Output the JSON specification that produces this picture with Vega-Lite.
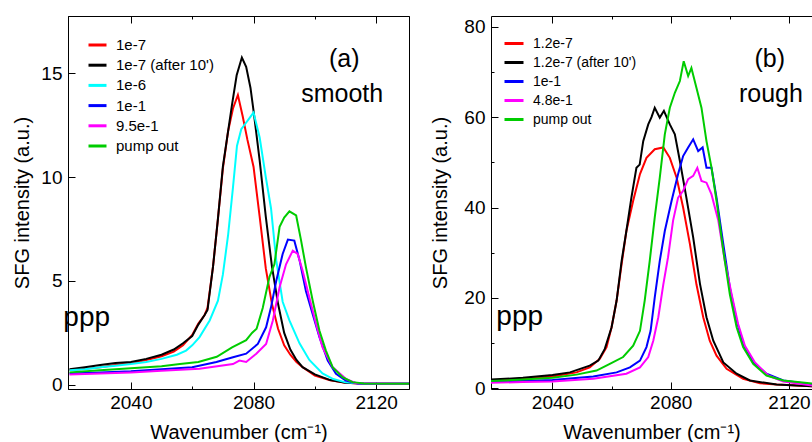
{
  "$schema": "https://vega.github.io/schema/vega-lite/v6.json",
  "padding": {"left": 12, "top": 15, "right": 0, "bottom": 0},
  "spacing": 16,
  "background": "white",
  "config": {
    "font": "Liberation Sans",
    "axis": {"grid": false, "domainColor": "black", "tickColor": "black", "labelFont": "Liberation Sans", "labelFontSize": 19, "labelColor": "black", "titleFont": "Liberation Sans", "titleFontSize": 20, "titleFontWeight": "normal", "titleColor": "black"},
    "legend": {"labelFont": "Liberation Sans", "labelColor": "black"}
  },
  "datasets": {
    "a": [
      {"x":2020,"y":0.72,"s":"1e-7"},{"x":2025,"y":0.78,"s":"1e-7"},{"x":2030,"y":0.85,"s":"1e-7"},{"x":2035,"y":0.95,"s":"1e-7"},{"x":2040,"y":1.05,"s":"1e-7"},{"x":2045,"y":1.2,"s":"1e-7"},{"x":2050,"y":1.38,"s":"1e-7"},{"x":2054,"y":1.6,"s":"1e-7"},{"x":2057,"y":1.9,"s":"1e-7"},{"x":2060,"y":2.4,"s":"1e-7"},{"x":2062,"y":2.95,"s":"1e-7"},{"x":2064,"y":3.35,"s":"1e-7"},{"x":2065,"y":3.7,"s":"1e-7"},{"x":2066.8,"y":5.7,"s":"1e-7"},{"x":2068.4,"y":8.0,"s":"1e-7"},{"x":2070,"y":10.4,"s":"1e-7"},{"x":2071.7,"y":12.2,"s":"1e-7"},{"x":2073.3,"y":13.3,"s":"1e-7"},{"x":2074.9,"y":13.95,"s":"1e-7"},{"x":2076.5,"y":12.9,"s":"1e-7"},{"x":2078,"y":11.8,"s":"1e-7"},{"x":2080,"y":10.5,"s":"1e-7"},{"x":2082,"y":8.1,"s":"1e-7"},{"x":2084,"y":5.6,"s":"1e-7"},{"x":2086,"y":3.9,"s":"1e-7"},{"x":2088,"y":2.7,"s":"1e-7"},{"x":2090,"y":1.9,"s":"1e-7"},{"x":2092,"y":1.45,"s":"1e-7"},{"x":2094,"y":1.1,"s":"1e-7"},{"x":2096,"y":0.85,"s":"1e-7"},{"x":2100,"y":0.45,"s":"1e-7"},{"x":2105,"y":0.22,"s":"1e-7"},{"x":2110,"y":0.1,"s":"1e-7"},{"x":2115,"y":0.06,"s":"1e-7"},{"x":2131,"y":0.05,"s":"1e-7"},
      {"x":2020,"y":0.75,"s":"1e-7 (after 10')"},{"x":2025,"y":0.85,"s":"1e-7 (after 10')"},{"x":2030,"y":0.95,"s":"1e-7 (after 10')"},{"x":2035,"y":1.05,"s":"1e-7 (after 10')"},{"x":2040,"y":1.1,"s":"1e-7 (after 10')"},{"x":2045,"y":1.25,"s":"1e-7 (after 10')"},{"x":2050,"y":1.45,"s":"1e-7 (after 10')"},{"x":2054,"y":1.7,"s":"1e-7 (after 10')"},{"x":2057,"y":2.0,"s":"1e-7 (after 10')"},{"x":2060,"y":2.35,"s":"1e-7 (after 10')"},{"x":2062,"y":2.9,"s":"1e-7 (after 10')"},{"x":2064,"y":3.35,"s":"1e-7 (after 10')"},{"x":2065,"y":3.6,"s":"1e-7 (after 10')"},{"x":2066.8,"y":5.7,"s":"1e-7 (after 10')"},{"x":2068.4,"y":8.0,"s":"1e-7 (after 10')"},{"x":2070,"y":10.5,"s":"1e-7 (after 10')"},{"x":2071.7,"y":12.2,"s":"1e-7 (after 10')"},{"x":2073,"y":13.5,"s":"1e-7 (after 10')"},{"x":2074.5,"y":14.9,"s":"1e-7 (after 10')"},{"x":2076.2,"y":15.75,"s":"1e-7 (after 10')"},{"x":2077.6,"y":15.3,"s":"1e-7 (after 10')"},{"x":2079,"y":14.3,"s":"1e-7 (after 10')"},{"x":2080,"y":13.2,"s":"1e-7 (after 10')"},{"x":2082,"y":10.8,"s":"1e-7 (after 10')"},{"x":2084,"y":8.1,"s":"1e-7 (after 10')"},{"x":2086,"y":5.7,"s":"1e-7 (after 10')"},{"x":2088,"y":3.9,"s":"1e-7 (after 10')"},{"x":2090,"y":2.5,"s":"1e-7 (after 10')"},{"x":2092,"y":1.7,"s":"1e-7 (after 10')"},{"x":2094,"y":1.2,"s":"1e-7 (after 10')"},{"x":2096,"y":0.85,"s":"1e-7 (after 10')"},{"x":2100,"y":0.5,"s":"1e-7 (after 10')"},{"x":2105,"y":0.23,"s":"1e-7 (after 10')"},{"x":2110,"y":0.1,"s":"1e-7 (after 10')"},{"x":2115,"y":0.06,"s":"1e-7 (after 10')"},{"x":2131,"y":0.05,"s":"1e-7 (after 10')"},
      {"x":2020,"y":0.7,"s":"1e-6"},{"x":2025,"y":0.75,"s":"1e-6"},{"x":2030,"y":0.85,"s":"1e-6"},{"x":2035,"y":0.92,"s":"1e-6"},{"x":2040,"y":1.0,"s":"1e-6"},{"x":2045,"y":1.1,"s":"1e-6"},{"x":2050,"y":1.25,"s":"1e-6"},{"x":2055,"y":1.45,"s":"1e-6"},{"x":2058,"y":1.65,"s":"1e-6"},{"x":2060,"y":1.9,"s":"1e-6"},{"x":2062.4,"y":2.3,"s":"1e-6"},{"x":2065.7,"y":3.1,"s":"1e-6"},{"x":2068.4,"y":4.05,"s":"1e-6"},{"x":2070,"y":5.3,"s":"1e-6"},{"x":2071.7,"y":7.2,"s":"1e-6"},{"x":2073.3,"y":9.5,"s":"1e-6"},{"x":2074.6,"y":11.5,"s":"1e-6"},{"x":2076,"y":12.3,"s":"1e-6"},{"x":2077.5,"y":12.6,"s":"1e-6"},{"x":2078.5,"y":12.8,"s":"1e-6"},{"x":2080,"y":13.1,"s":"1e-6"},{"x":2082,"y":11.9,"s":"1e-6"},{"x":2084,"y":10.0,"s":"1e-6"},{"x":2085.7,"y":8.5,"s":"1e-6"},{"x":2087.4,"y":6.0,"s":"1e-6"},{"x":2089.5,"y":4.0,"s":"1e-6"},{"x":2091.7,"y":3.1,"s":"1e-6"},{"x":2095,"y":2.0,"s":"1e-6"},{"x":2098.2,"y":1.2,"s":"1e-6"},{"x":2102.5,"y":0.55,"s":"1e-6"},{"x":2106,"y":0.28,"s":"1e-6"},{"x":2110,"y":0.12,"s":"1e-6"},{"x":2115,"y":0.06,"s":"1e-6"},{"x":2131,"y":0.05,"s":"1e-6"},
      {"x":2020,"y":0.55,"s":"1e-1"},{"x":2030,"y":0.6,"s":"1e-1"},{"x":2040,"y":0.65,"s":"1e-1"},{"x":2050,"y":0.75,"s":"1e-1"},{"x":2060,"y":0.85,"s":"1e-1"},{"x":2067.9,"y":1.1,"s":"1e-1"},{"x":2073.3,"y":1.33,"s":"1e-1"},{"x":2077.6,"y":1.5,"s":"1e-1"},{"x":2081.4,"y":1.97,"s":"1e-1"},{"x":2084.1,"y":2.77,"s":"1e-1"},{"x":2085.7,"y":3.73,"s":"1e-1"},{"x":2087.4,"y":5.0,"s":"1e-1"},{"x":2089.5,"y":6.3,"s":"1e-1"},{"x":2091.2,"y":6.99,"s":"1e-1"},{"x":2093.3,"y":6.94,"s":"1e-1"},{"x":2095,"y":6.0,"s":"1e-1"},{"x":2097.1,"y":4.5,"s":"1e-1"},{"x":2099.3,"y":3.4,"s":"1e-1"},{"x":2101.5,"y":2.29,"s":"1e-1"},{"x":2104.2,"y":1.17,"s":"1e-1"},{"x":2106.9,"y":0.53,"s":"1e-1"},{"x":2110.1,"y":0.21,"s":"1e-1"},{"x":2114,"y":0.07,"s":"1e-1"},{"x":2131,"y":0.05,"s":"1e-1"},
      {"x":2020,"y":0.5,"s":"9.5e-1"},{"x":2030,"y":0.55,"s":"9.5e-1"},{"x":2040,"y":0.6,"s":"9.5e-1"},{"x":2050,"y":0.68,"s":"9.5e-1"},{"x":2062.4,"y":0.77,"s":"9.5e-1"},{"x":2073.3,"y":1.0,"s":"9.5e-1"},{"x":2075.4,"y":1.17,"s":"9.5e-1"},{"x":2077.6,"y":1.1,"s":"9.5e-1"},{"x":2080.9,"y":1.5,"s":"9.5e-1"},{"x":2084.1,"y":1.97,"s":"9.5e-1"},{"x":2086.3,"y":3.1,"s":"9.5e-1"},{"x":2088.5,"y":4.7,"s":"9.5e-1"},{"x":2090.6,"y":5.8,"s":"9.5e-1"},{"x":2092.8,"y":6.46,"s":"9.5e-1"},{"x":2094.4,"y":6.3,"s":"9.5e-1"},{"x":2096,"y":5.5,"s":"9.5e-1"},{"x":2098.2,"y":4.2,"s":"9.5e-1"},{"x":2100.4,"y":2.93,"s":"9.5e-1"},{"x":2102.5,"y":1.8,"s":"9.5e-1"},{"x":2105.8,"y":0.85,"s":"9.5e-1"},{"x":2110.1,"y":0.29,"s":"9.5e-1"},{"x":2113.4,"y":0.08,"s":"9.5e-1"},{"x":2131,"y":0.05,"s":"9.5e-1"},
      {"x":2020,"y":0.6,"s":"pump out"},{"x":2030,"y":0.7,"s":"pump out"},{"x":2040,"y":0.8,"s":"pump out"},{"x":2050,"y":0.9,"s":"pump out"},{"x":2056,"y":1.0,"s":"pump out"},{"x":2062,"y":1.1,"s":"pump out"},{"x":2068,"y":1.35,"s":"pump out"},{"x":2073,"y":1.8,"s":"pump out"},{"x":2077.6,"y":2.15,"s":"pump out"},{"x":2079.5,"y":2.5,"s":"pump out"},{"x":2081,"y":2.7,"s":"pump out"},{"x":2083,"y":3.7,"s":"pump out"},{"x":2085.2,"y":5.2,"s":"pump out"},{"x":2086.8,"y":5.8,"s":"pump out"},{"x":2088.5,"y":7.6,"s":"pump out"},{"x":2090,"y":8.05,"s":"pump out"},{"x":2091.7,"y":8.35,"s":"pump out"},{"x":2093.9,"y":8.15,"s":"pump out"},{"x":2095.5,"y":6.95,"s":"pump out"},{"x":2097.1,"y":5.65,"s":"pump out"},{"x":2099.3,"y":4.05,"s":"pump out"},{"x":2101.5,"y":2.6,"s":"pump out"},{"x":2103.6,"y":1.65,"s":"pump out"},{"x":2105.8,"y":0.85,"s":"pump out"},{"x":2109,"y":0.37,"s":"pump out"},{"x":2112.3,"y":0.13,"s":"pump out"},{"x":2116,"y":0.06,"s":"pump out"},{"x":2131,"y":0.05,"s":"pump out"}
    ],
    "b": [
      {"x":2019.2,"y":1.7,"s":"1.2e-7"},{"x":2030,"y":2.1,"s":"1.2e-7"},{"x":2040,"y":2.6,"s":"1.2e-7"},{"x":2048.1,"y":3.5,"s":"1.2e-7"},{"x":2052.6,"y":4.6,"s":"1.2e-7"},{"x":2056,"y":6.5,"s":"1.2e-7"},{"x":2058.3,"y":9.1,"s":"1.2e-7"},{"x":2060,"y":13.5,"s":"1.2e-7"},{"x":2061.7,"y":19.4,"s":"1.2e-7"},{"x":2063.4,"y":27.5,"s":"1.2e-7"},{"x":2065,"y":34.8,"s":"1.2e-7"},{"x":2067.3,"y":41.5,"s":"1.2e-7"},{"x":2069.6,"y":47.4,"s":"1.2e-7"},{"x":2071.8,"y":51,"s":"1.2e-7"},{"x":2074.6,"y":52.9,"s":"1.2e-7"},{"x":2077.5,"y":53.3,"s":"1.2e-7"},{"x":2079.7,"y":51,"s":"1.2e-7"},{"x":2082,"y":46.6,"s":"1.2e-7"},{"x":2084.2,"y":40,"s":"1.2e-7"},{"x":2086.5,"y":31.9,"s":"1.2e-7"},{"x":2088.7,"y":23,"s":"1.2e-7"},{"x":2091,"y":15.7,"s":"1.2e-7"},{"x":2093.2,"y":10.5,"s":"1.2e-7"},{"x":2095.5,"y":7.2,"s":"1.2e-7"},{"x":2098.9,"y":4.3,"s":"1.2e-7"},{"x":2104.5,"y":2.1,"s":"1.2e-7"},{"x":2110.2,"y":1.1,"s":"1.2e-7"},{"x":2115.8,"y":0.8,"s":"1.2e-7"},{"x":2128,"y":0.4,"s":"1.2e-7"},
      {"x":2019.2,"y":1.9,"s":"1.2e-7 (after 10')"},{"x":2030,"y":2.3,"s":"1.2e-7 (after 10')"},{"x":2040,"y":2.9,"s":"1.2e-7 (after 10')"},{"x":2045.9,"y":3.5,"s":"1.2e-7 (after 10')"},{"x":2052.6,"y":5.0,"s":"1.2e-7 (after 10')"},{"x":2055.5,"y":6.1,"s":"1.2e-7 (after 10')"},{"x":2057.7,"y":8.7,"s":"1.2e-7 (after 10')"},{"x":2060,"y":13.5,"s":"1.2e-7 (after 10')"},{"x":2061.7,"y":19.4,"s":"1.2e-7 (after 10')"},{"x":2063.4,"y":28.2,"s":"1.2e-7 (after 10')"},{"x":2065,"y":34.8,"s":"1.2e-7 (after 10')"},{"x":2066.7,"y":42.2,"s":"1.2e-7 (after 10')"},{"x":2068.4,"y":48.8,"s":"1.2e-7 (after 10')"},{"x":2069.5,"y":49.5,"s":"1.2e-7 (after 10')"},{"x":2070.7,"y":54.7,"s":"1.2e-7 (after 10')"},{"x":2072.4,"y":58.4,"s":"1.2e-7 (after 10')"},{"x":2073.5,"y":60,"s":"1.2e-7 (after 10')"},{"x":2074.6,"y":62.1,"s":"1.2e-7 (after 10')"},{"x":2076.3,"y":59.9,"s":"1.2e-7 (after 10')"},{"x":2077.7,"y":61.4,"s":"1.2e-7 (after 10')"},{"x":2079.7,"y":58.4,"s":"1.2e-7 (after 10')"},{"x":2081.4,"y":56.2,"s":"1.2e-7 (after 10')"},{"x":2083.1,"y":50.3,"s":"1.2e-7 (after 10')"},{"x":2085.3,"y":42.2,"s":"1.2e-7 (after 10')"},{"x":2087.6,"y":33.4,"s":"1.2e-7 (after 10')"},{"x":2089.9,"y":23.1,"s":"1.2e-7 (after 10')"},{"x":2092.1,"y":15.7,"s":"1.2e-7 (after 10')"},{"x":2094.4,"y":10.5,"s":"1.2e-7 (after 10')"},{"x":2097.8,"y":5.7,"s":"1.2e-7 (after 10')"},{"x":2102.3,"y":3.2,"s":"1.2e-7 (after 10')"},{"x":2106.8,"y":1.7,"s":"1.2e-7 (after 10')"},{"x":2115.8,"y":0.8,"s":"1.2e-7 (after 10')"},{"x":2128,"y":0.4,"s":"1.2e-7 (after 10')"},
      {"x":2019.2,"y":1.5,"s":"1e-1"},{"x":2030,"y":1.6,"s":"1e-1"},{"x":2040,"y":1.8,"s":"1e-1"},{"x":2053.8,"y":2.6,"s":"1e-1"},{"x":2061.7,"y":3.5,"s":"1e-1"},{"x":2066.2,"y":4.6,"s":"1e-1"},{"x":2069.6,"y":6.1,"s":"1e-1"},{"x":2071.8,"y":9.1,"s":"1e-1"},{"x":2073.2,"y":12.7,"s":"1e-1"},{"x":2074.6,"y":20.1,"s":"1e-1"},{"x":2076.3,"y":28.2,"s":"1e-1"},{"x":2078,"y":34.8,"s":"1e-1"},{"x":2080.3,"y":41.5,"s":"1e-1"},{"x":2082.5,"y":47.4,"s":"1e-1"},{"x":2084.2,"y":51.4,"s":"1e-1"},{"x":2085.9,"y":53.3,"s":"1e-1"},{"x":2087.6,"y":55.1,"s":"1e-1"},{"x":2089.3,"y":52.5,"s":"1e-1"},{"x":2090.8,"y":53.3,"s":"1e-1"},{"x":2092.1,"y":48.8,"s":"1e-1"},{"x":2093.8,"y":48.8,"s":"1e-1"},{"x":2095.5,"y":42.2,"s":"1e-1"},{"x":2097.8,"y":31.9,"s":"1e-1"},{"x":2100,"y":22.3,"s":"1e-1"},{"x":2102.3,"y":15,"s":"1e-1"},{"x":2104.5,"y":9.8,"s":"1e-1"},{"x":2107.9,"y":5.7,"s":"1e-1"},{"x":2112.4,"y":3.2,"s":"1e-1"},{"x":2118.1,"y":1.7,"s":"1e-1"},{"x":2128,"y":0.8,"s":"1e-1"},
      {"x":2019.2,"y":1.2,"s":"4.8e-1"},{"x":2030,"y":1.35,"s":"4.8e-1"},{"x":2040,"y":1.5,"s":"4.8e-1"},{"x":2053.8,"y":2.1,"s":"4.8e-1"},{"x":2065,"y":3.2,"s":"4.8e-1"},{"x":2069.6,"y":4.6,"s":"4.8e-1"},{"x":2072.4,"y":6.9,"s":"4.8e-1"},{"x":2074.1,"y":10.5,"s":"4.8e-1"},{"x":2075.8,"y":15.7,"s":"4.8e-1"},{"x":2077.5,"y":23,"s":"4.8e-1"},{"x":2079.1,"y":29,"s":"4.8e-1"},{"x":2080.8,"y":37.1,"s":"4.8e-1"},{"x":2082.5,"y":42.2,"s":"4.8e-1"},{"x":2084.2,"y":43.7,"s":"4.8e-1"},{"x":2085.9,"y":46.3,"s":"4.8e-1"},{"x":2087.6,"y":47,"s":"4.8e-1"},{"x":2089,"y":48.8,"s":"4.8e-1"},{"x":2090.4,"y":45.9,"s":"4.8e-1"},{"x":2092.1,"y":45.5,"s":"4.8e-1"},{"x":2093.8,"y":42.9,"s":"4.8e-1"},{"x":2096.1,"y":37.1,"s":"4.8e-1"},{"x":2098.3,"y":28.2,"s":"4.8e-1"},{"x":2100.6,"y":20.8,"s":"4.8e-1"},{"x":2102.8,"y":14.2,"s":"4.8e-1"},{"x":2105.1,"y":9.4,"s":"4.8e-1"},{"x":2108.5,"y":5.7,"s":"4.8e-1"},{"x":2113,"y":2.8,"s":"4.8e-1"},{"x":2118.1,"y":1.5,"s":"4.8e-1"},{"x":2128,"y":0.6,"s":"4.8e-1"},
      {"x":2019.2,"y":1.6,"s":"pump out"},{"x":2030,"y":1.9,"s":"pump out"},{"x":2040,"y":2.3,"s":"pump out"},{"x":2048.1,"y":3.0,"s":"pump out"},{"x":2054.9,"y":3.9,"s":"pump out"},{"x":2059.4,"y":5.4,"s":"pump out"},{"x":2063.9,"y":6.9,"s":"pump out"},{"x":2067.3,"y":9.4,"s":"pump out"},{"x":2069.6,"y":12.7,"s":"pump out"},{"x":2071.2,"y":19.4,"s":"pump out"},{"x":2072.9,"y":28.2,"s":"pump out"},{"x":2074.6,"y":37.8,"s":"pump out"},{"x":2076.3,"y":46.6,"s":"pump out"},{"x":2078,"y":56.2,"s":"pump out"},{"x":2079.7,"y":62.1,"s":"pump out"},{"x":2081.4,"y":65.4,"s":"pump out"},{"x":2083.1,"y":68,"s":"pump out"},{"x":2084.4,"y":72.4,"s":"pump out"},{"x":2085.9,"y":69.1,"s":"pump out"},{"x":2087,"y":70.9,"s":"pump out"},{"x":2088.7,"y":66.5,"s":"pump out"},{"x":2090.4,"y":62.1,"s":"pump out"},{"x":2092.1,"y":54.7,"s":"pump out"},{"x":2093.8,"y":48.8,"s":"pump out"},{"x":2095.5,"y":41.5,"s":"pump out"},{"x":2097.8,"y":30.4,"s":"pump out"},{"x":2100,"y":20.8,"s":"pump out"},{"x":2102.3,"y":13.5,"s":"pump out"},{"x":2104.5,"y":9.1,"s":"pump out"},{"x":2107.9,"y":5.4,"s":"pump out"},{"x":2112.4,"y":2.8,"s":"pump out"},{"x":2118.1,"y":1.7,"s":"pump out"},{"x":2128,"y":1.0,"s":"pump out"}
    ],
    "ta": [
      {"x":2109.6,"y":15.3,"t":"(a)","a":"center","fs":25},
      {"x":2108.9,"y":13.59,"t":"smooth","a":"center","fs":25},
      {"x":2025.6,"y":2.85,"t":"ppp","a":"left","fs":28}
    ],
    "tb": [
      {"x":2113.5,"y":71.2,"t":"(b)","a":"center","fs":25},
      {"x":2113.9,"y":63.3,"t":"rough","a":"center","fs":25},
      {"x":2028.9,"y":13.9,"t":"ppp","a":"left","fs":28}
    ]
  },
  "hconcat": [
    {
      "width": 341, "height": 373,
      "view": {"stroke": "black", "strokeWidth": 1},
      "layer": [
        {
          "data": {"name": "a"},
          "mark": {"type": "line", "strokeWidth": 2, "clip": true},
          "encoding": {
            "x": {"field": "x", "type": "quantitative", "scale": {"domain": [2019.5, 2130.7], "nice": false, "zero": false},
                  "axis": {"values": [2040, 2080, 2120], "tickSize": -7, "labelPadding": 11.5, "title": "Wavenumber (cm⁻¹)", "titlePadding": 9.5, "format": "d"}},
            "y": {"field": "y", "type": "quantitative", "scale": {"domain": [-0.2, 17.75], "nice": false, "zero": false},
                  "axis": {"values": [0, 5, 10, 15], "tickSize": -7, "labelPadding": 13, "title": "SFG intensity (a.u.)", "titlePadding": 8}},
            "color": {"field": "s", "type": "nominal",
                      "scale": {"domain": ["1e-7", "1e-7 (after 10')", "1e-6", "1e-1", "9.5e-1", "pump out"], "range": ["#ff0000", "#000000", "#00ffff", "#0000ff", "#ff00ff", "#00cc00"]},
                      "legend": {"title": null, "orient": "none", "legendX": 19, "legendY": 18.5, "symbolType": "stroke", "symbolStrokeWidth": 3, "symbolSize": 324, "labelFontSize": 15, "labelOffset": 8, "rowPadding": 1.2, "padding": 0}}
          }
        },
        {
          "data": {"name": "a"},
          "mark": {"type": "point", "opacity": 0},
          "encoding": {
            "x": {"field": "x", "type": "quantitative", "axis": {"orient": "top", "values": [2040, 2080, 2120], "tickSize": -7, "labels": false, "domain": true, "title": null}},
            "y": {"field": "y", "type": "quantitative", "axis": null}
          }
        },
        {
          "data": {"name": "a"},
          "mark": {"type": "point", "opacity": 0},
          "encoding": {
            "x": {"field": "x", "type": "quantitative", "axis": {"orient": "bottom", "values": [2060, 2100], "tickSize": -3, "labels": false, "domain": false, "title": null}},
            "y": {"field": "y", "type": "quantitative", "axis": null}
          }
        },
        {
          "data": {"name": "a"},
          "mark": {"type": "point", "opacity": 0},
          "encoding": {
            "x": {"field": "x", "type": "quantitative", "axis": {"orient": "top", "values": [2060, 2100], "tickSize": -3, "labels": false, "domain": false, "title": null}},
            "y": {"field": "y", "type": "quantitative", "axis": null}
          }
        },
        {
          "data": {"name": "ta"},
          "mark": {"type": "text", "color": "black", "font": "Liberation Sans", "baseline": "alphabetic"},
          "encoding": {
            "x": {"field": "x", "type": "quantitative", "axis": null},
            "y": {"field": "y", "type": "quantitative", "axis": null},
            "text": {"field": "t"},
            "align": {"field": "a"},
            "size": {"field": "fs", "type": "quantitative", "scale": null}
          }
        }
      ],
      "resolve": {"axis": {"x": "independent", "y": "independent"}}
    },
    {
      "width": 321, "height": 373,
      "view": {"stroke": null},
      "layer": [
        {
          "data": {"name": "b"},
          "mark": {"type": "line", "strokeWidth": 2, "clip": true},
          "encoding": {
            "x": {"field": "x", "type": "quantitative", "scale": {"domain": [2019.2, 2127.8], "nice": false, "zero": false},
                  "axis": {"values": [2040, 2080, 2120], "tickSize": -7, "labelPadding": 11.5, "title": "Wavenumber (cm⁻¹)", "titlePadding": 9.5, "format": "d"}},
            "y": {"field": "y", "type": "quantitative", "scale": {"domain": [-0.18, 82.4], "nice": false, "zero": false},
                  "axis": {"values": [0, 20, 40, 60, 80], "tickSize": -7, "labelPadding": 13, "title": "SFG intensity (a.u.)", "titlePadding": 13}},
            "color": {"field": "s", "type": "nominal",
                      "scale": {"domain": ["1.2e-7", "1.2e-7 (after 10')", "1e-1", "4.8e-1", "pump out"], "range": ["#ff0000", "#000000", "#0000ff", "#ff00ff", "#00cc00"]},
                      "legend": {"title": null, "orient": "none", "legendX": 12, "legendY": 16.5, "symbolType": "stroke", "symbolStrokeWidth": 3, "symbolSize": 361, "labelFontSize": 14, "labelOffset": 8, "rowPadding": 1, "padding": 0}}
          }
        },
        {
          "data": {"name": "b"},
          "mark": {"type": "point", "opacity": 0},
          "encoding": {
            "x": {"field": "x", "type": "quantitative", "axis": {"orient": "top", "values": [2040, 2080, 2120], "tickSize": -7, "labels": false, "domain": true, "title": null}},
            "y": {"field": "y", "type": "quantitative", "axis": {"orient": "left", "values": [10, 30, 50, 70], "tickSize": -3, "labels": false, "domain": false, "title": null}}
          }
        },
        {
          "data": {"name": "b"},
          "mark": {"type": "point", "opacity": 0},
          "encoding": {
            "x": {"field": "x", "type": "quantitative", "axis": {"orient": "bottom", "values": [2060, 2100], "tickSize": -3, "labels": false, "domain": false, "title": null}},
            "y": {"field": "y", "type": "quantitative", "axis": null}
          }
        },
        {
          "data": {"name": "b"},
          "mark": {"type": "point", "opacity": 0},
          "encoding": {
            "x": {"field": "x", "type": "quantitative", "axis": {"orient": "top", "values": [2060, 2100], "tickSize": -3, "labels": false, "domain": false, "title": null}},
            "y": {"field": "y", "type": "quantitative", "axis": null}
          }
        },
        {
          "data": {"name": "tb"},
          "mark": {"type": "text", "color": "black", "font": "Liberation Sans", "baseline": "alphabetic"},
          "encoding": {
            "x": {"field": "x", "type": "quantitative", "axis": null},
            "y": {"field": "y", "type": "quantitative", "axis": null},
            "text": {"field": "t"},
            "align": {"field": "a"},
            "size": {"field": "fs", "type": "quantitative", "scale": null}
          }
        }
      ],
      "resolve": {"axis": {"x": "independent", "y": "independent"}}
    }
  ],
  "resolve": {"scale": {"color": "independent"}}
}
